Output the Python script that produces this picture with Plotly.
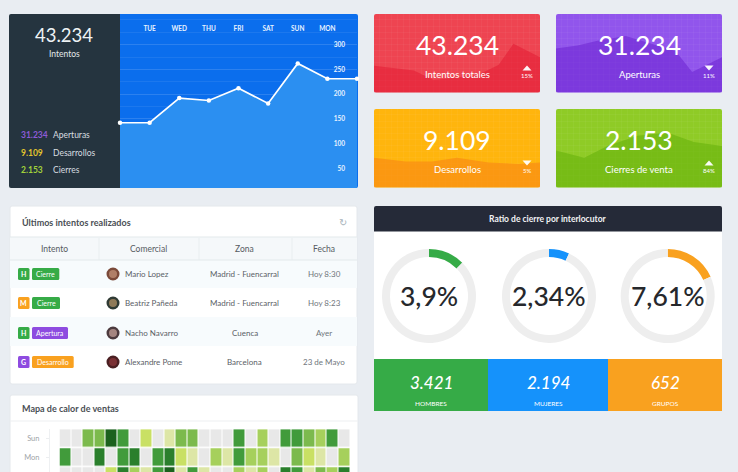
import plotly.graph_objects as go

W, H = 738, 472
FONT = "Lato"

# ---------- data ----------
days = ["", "TUE", "WED", "THU", "FRI", "SAT", "SUN", "MON", ""]
intentos = [142, 142, 192, 187, 212, 181, 262, 231, 231]
y_ticks = [50, 100, 150, 200, 250, 300]
summary_vals = ["31.234", "9.109", "2.153"]
summary_lbls = ["Aperturas", "Desarrollos", "Cierres"]

card_titles = ["Intentos totales", "Aperturas", "Desarrollos", "Cierres de venta"]
card_vals = ["43.234", "31.234", "9.109", "2.153"]
card_pcts = ["15%", "11%", "5%", "84%"]
card_up = [True, False, False, True]
red_x = [0, 24, 36, 62, 75, 84, 100]
red_y = [34, 28, 16, 22, 35, 62, 45]
purple_x = [0, 13, 25, 42, 72, 82, 100]
purple_y = [56, 60, 66, 72, 53, 26, 45]
orange_x = [0, 19, 35, 50, 69, 87, 100]
orange_y = [38, 33, 33, 38, 32, 30, 32]
green_x = [0, 17, 31, 49, 67, 83, 100]
green_y = [47, 38, 53, 66, 70, 58, 53]

tbl_headers = ["Intento", "Comercial", "Zona", "Fecha"]
tbl_tag1 = ["H", "M", "H", "G"]
tbl_tag2 = ["Cierre", "Cierre", "Apertura", "Desarrollo"]
tbl_names = ["Mario Lopez", "Beatriz Pañeda", "Nacho Navarro", "Alexandre Pome"]
tbl_zones = ["Madrid - Fuencarral", "Madrid - Fuencarral", "Cuenca", "Barcelona"]
tbl_dates = ["Hoy 8:30", "Hoy 8:23", "Ayer", "23 de Mayo"]

ring_labels = ["3,9%", "2,34%", "7,61%"]
ring_arcs = [12.5, 7, 18.3]
stat_vals = ["3.421", "2.194", "652"]
stat_lbls = ["HOMBRES", "MUJERES", "GRUPOS"]

heat_rows = ["Sun", "Mon", "Tue"]
heat_sun = [0, 0, 4, 4, 7, 5, 0, 2, 0, 1, 4, 4, 0, 0, 0, 5, 0, 3, 0, 5, 5, 4, 3, 5, 0]
heat_mon = [5, 0, 0, 6, 0, 5, 6, 0, 5, 6, 2, 1, 0, 3, 1, 5, 3, 3, 1, 0, 4, 2, 1, 0, 3]
heat_tue = [0, 0, 0, 0, 2, 6, 3, 1, 5, 7, 1, 5, 1, 0, 0, 3, 1, 3, 0, 6, 5, 1, 4, 3, 6]

# ---------- styling ----------
BG = "#e9edf2"
GREEN, BLUE, ORANGE, PURPLE = "#36ab47", "#1592fb", "#f9a11f", "#8e4be0"


def px(x):
    return x / W


def py(y):
    return 1 - y / H


def rr(x0, y0, x1, y1, r=2):
    return (f"M{px(x0+r)},{py(y0)} L{px(x1-r)},{py(y0)} Q{px(x1)},{py(y0)} {px(x1)},{py(y0+r)} "
            f"L{px(x1)},{py(y1-r)} Q{px(x1)},{py(y1)} {px(x1-r)},{py(y1)} "
            f"L{px(x0+r)},{py(y1)} Q{px(x0)},{py(y1)} {px(x0)},{py(y1-r)} "
            f"L{px(x0)},{py(y0+r)} Q{px(x0)},{py(y0)} {px(x0+r)},{py(y0)} Z")


shapes, notes = [], []


def box(x0, y0, x1, y1, color, r=2, line=None, layer="below"):
    shapes.append(dict(type="path", path=rr(x0, y0, x1, y1, r), xref="paper", yref="paper",
                       fillcolor=color, layer=layer,
                       line=dict(width=1 if line else 0, color=line or color)))


def rect(x0, y0, x1, y1, color, layer="below"):
    shapes.append(dict(type="rect", x0=px(x0), x1=px(x1), y0=py(y1), y1=py(y0), xref="paper", yref="paper",
                       fillcolor=color, line=dict(width=0), layer=layer))


def circ(cx, cy, r, color, layer="above"):
    shapes.append(dict(type="circle", x0=px(cx-r), x1=px(cx+r), y0=py(cy+r), y1=py(cy-r),
                       xref="paper", yref="paper", fillcolor=color, line=dict(width=0), layer=layer))


def tri(cx, cy, up, color="rgba(255,255,255,0.95)"):
    a, b = (cy+2.5, cy-2.5) if up else (cy-2.5, cy+2.5)
    shapes.append(dict(type="path", path=f"M{px(cx-4.5)},{py(a)} L{px(cx+4.5)},{py(a)} L{px(cx)},{py(b)} Z",
                       xref="paper", yref="paper", fillcolor=color, line=dict(width=0), layer="above"))


def T(x, y, text, size, color="#ffffff", anchor="center", weight=400, style="normal", family=FONT):
    notes.append(dict(x=px(x), y=py(y), xref="paper", yref="paper", text=text, showarrow=False,
                      xanchor=anchor, yanchor="middle", borderpad=0,
                      font=dict(size=size, color=color, family=family, weight=weight, style=style)))


fig = go.Figure()

# ---------- main panel ----------
box(120, 14, 358, 188, "#0b6eed")
box(9, 14, 123, 188, "#25343f")
rect(120, 14, 124, 188, "#0b6eed")
T(64, 35, "43.234", 18.5, "#eef2f4", weight=400)
T(64, 54, "Intentos", 8.5, "#e4e8ea", weight=400)
for y, v, l, c in zip([135, 153, 170], summary_vals, summary_lbls, ["#8d5bd6", "#e2c42d", "#a2d23a"]):
    T(20, y, v, 8.5, c, "left", weight=700)
    T(52, y, l, 8.5, "#d8dde0", "left")

fig.add_trace(go.Scatter(
    x=list(range(len(intentos))), y=intentos, mode="lines+markers", fill="tozeroy",
    fillcolor="#2b8ff1", line=dict(color="#ffffff", width=1.7),
    marker=dict(color="#ffffff", size=4.5), cliponaxis=False, showlegend=False, hoverinfo="skip",
    xaxis="x", yaxis="y"))

layout_axes = dict(
    xaxis=dict(domain=[px(120), px(357)], range=[0, 8], side="top", anchor="free", position=py(32),
               tickvals=list(range(1, 8)), ticktext=days[1:8], showgrid=False, zeroline=False, ticks="",
               tickfont=dict(size=6.5, color="#e8f2ff", family=FONT, weight=700)),
    yaxis=dict(domain=[py(188), py(14)], range=[10, 362], side="right", anchor="free", position=px(348),
               tickvals=y_ticks, ticklabelposition="inside", zeroline=False, ticks="",
               tickfont=dict(size=6.5, color="#e8f2ff", family=FONT, weight=700),
               gridcolor="rgba(255,255,255,0.07)", gridwidth=1,
               minor=dict(dtick=25, tick0=0, showgrid=True, gridcolor="rgba(255,255,255,0.07)", gridwidth=1)),
)

# ---------- KPI cards ----------
cards = [
    (374, 14, "#ee4451", "rgba(226,22,48,0.5)", red_x, red_y),
    (556, 14, "#9155ec", "rgba(104,30,205,0.5)", purple_x, purple_y),
    (374, 109, "#ffb50d", "rgba(250,140,20,0.7)", orange_x, orange_y),
    (556, 109, "#8fcb26", "rgba(104,178,12,0.6)", green_x, green_y),
]
for i, (x0, y0, bg, fillc, xs, ys) in enumerate(cards):
    n = i + 2
    x1, y1 = x0 + 166, y0 + 78.5
    box(x0, y0, x1, y1, bg)
    fig.add_trace(go.Scatter(x=xs, y=ys, mode="lines", fill="tozeroy", fillcolor=fillc, line=dict(width=0),
                             showlegend=False, hoverinfo="skip", xaxis=f"x{n}", yaxis=f"y{n}"))
    grid = "rgba(255,255,255,0.04)"
    layout_axes[f"xaxis{n}"] = dict(domain=[px(x0), px(x1)], range=[0, 100], dtick=3.6, tick0=0,
                                    showticklabels=False, gridcolor=grid, zeroline=False, ticks="", anchor=f"y{n}")
    layout_axes[f"yaxis{n}"] = dict(domain=[py(y1), py(y0)], range=[0, 100], dtick=7.7, tick0=0,
                                    showticklabels=False, gridcolor=grid, zeroline=False, ticks="", anchor=f"x{n}")
    cx = x0 + 83
    T(cx, y0 + 31, card_vals[i], 26.5, "#ffffff", weight=400)
    T(cx, y0 + 60, card_titles[i], 9.5, "#ffffff", weight=400)
    tri(x0 + 153, y0 + 54, card_up[i])
    T(x0 + 153, y0 + 61.5, card_pcts[i], 6, "#ffffff")

# ---------- table ----------
box(10, 206, 357, 384, "#ffffff", line="#e4e8ec")
T(21, 222, "Últimos intentos realizados", 9, "#4a4f55", "left", 700)
T(342.5, 222, "↻", 10, "#a9b4bb", family="DejaVu Sans")
rect(10, 237, 357, 260, "#f5f8fa")
rect(10, 260, 357, 288, "#f7fbfd")
rect(10, 317, 357, 346, "#f7fbfd")
for yy in (237, 260):
    rect(10, yy - 0.4, 357, yy + 0.4, "#e3e9ec")
for xx in (99, 199, 292):
    rect(xx - 0.4, 238, xx + 0.4, 260, "#e6ebee")
for x, h in zip([54, 148.5, 245, 324], tbl_headers):
    T(x, 248.5, h, 8.5, "#555b62", weight=400)
row_y = [274, 303, 333, 362]
tag1_col = [GREEN, ORANGE, GREEN, PURPLE]
tag2_col = [GREEN, GREEN, PURPLE, ORANGE]
tag2_end = [59.3, 60, 68, 73.7]
ava = [("#7b4a3a", "#b07f68"), ("#2f3a34", "#8f7a58"), ("#4c3a3e", "#a58580"), ("#4a1f22", "#7a3034")]
for y, t1, t2, c1, c2, e, nm, z, d, (a1, a2) in zip(row_y, tbl_tag1, tbl_tag2, tag1_col, tag2_col, tag2_end,
                                                     tbl_names, tbl_zones, tbl_dates, ava):
    box(18, y - 6, 29.5, y + 6, c1, r=1.5)
    T(23.7, y, t1, 7, "#ffffff", weight=700)
    box(32, y - 6, e, y + 6, c2, r=1.5)
    T((32 + e) / 2, y, t2, 7, "#ffffff")
    circ(113, y, 6.5, a1)
    circ(113, y, 4, a2)
    T(124, y - 0.5, nm, 8, "#5a6066", "left")
    T(245, y, z, 8, "#5a6066")
    T(324, y, d, 8, "#70767c")

# ---------- heat map ----------
box(10, 395, 358, 490, "#ffffff", line="#e4e8ec")
T(21, 408, "Mapa de calor de ventas", 9, "#4a4f55", "left", 700)
rect(10, 420.6, 358, 421.4, "#eef0f2")
HEAT = ["#e8e8e8", "#dde6a6", "#c9e064", "#a6d05c", "#7cba4d", "#419b3b", "#2a7f2c", "#1b611d"]
cs = []
for k, c in enumerate(HEAT):
    cs += [[k / len(HEAT), c], [(k + 1) / len(HEAT), c]]
fig.add_trace(go.Heatmap(z=[heat_sun, heat_mon, heat_tue], y=heat_rows, colorscale=cs, zmin=0, zmax=8 - 1e-9,
                         xgap=1, ygap=1.5, showscale=False, hoverinfo="skip", xaxis="x6", yaxis="y6"))
layout_axes["xaxis6"] = dict(domain=[px(59.5), px(350)], range=[-0.5, 24.5], visible=False, anchor="y6")
layout_axes["yaxis6"] = dict(domain=[0, py(429.2)], range=[1.75, -0.5], anchor="free", position=px(49),
                             tickvals=heat_rows[:2], ticks="outside", ticklen=3, tickcolor="#eceef0",
                             ticklabelstandoff=5,
                             showline=True, linecolor="#eef0f2", showgrid=False, zeroline=False,
                             tickfont=dict(size=7.5, color="#a0a4a8", family=FONT), type="category")

# ---------- ratio panel ----------
box(374, 206, 722, 411, "#ffffff")
box(374, 206, 722, 234, "#252a38")
rect(374, 231.5, 722, 236, "#ffffff")
T(548, 219, "Ratio de cierre por interlocutor", 8.5, "#f2f3f5", weight=700)
ring_cx = [429, 549, 667.7]
for cx, arc, lbl, col in zip(ring_cx, ring_arcs, ring_labels, [GREEN, BLUE, ORANGE]):
    fig.add_trace(go.Pie(values=[arc, 100 - arc], marker=dict(colors=[col, "#eeeeee"], line=dict(width=0)),
                         hole=0.83, sort=False, direction="clockwise", rotation=0, textinfo="none",
                         showlegend=False, hoverinfo="skip",
                         domain=dict(x=[px(cx - 47), px(cx + 47)], y=[py(296 + 47), py(296 - 47)])))
    T(cx, 296, lbl, 26.5, "#26282c", weight=500)
stat_x = [(374, 488, GREEN), (488, 608, BLUE), (608, 722, ORANGE)]
for (x0, x1, c), v, l in zip(stat_x, stat_vals, stat_lbls):
    rect(x0, 359, x1, 411, c)
    T((x0 + x1) / 2, 382, v, 17, "#ffffff", weight=500, style="italic")
    T((x0 + x1) / 2, 403, l, 6.5, "#ffffff", weight=400)

fig.update_layout(width=W, height=H, margin=dict(l=0, r=0, t=0, b=0), paper_bgcolor=BG,
                  plot_bgcolor="rgba(0,0,0,0)", shapes=shapes, annotations=notes,
                  showlegend=False, hovermode=False, font=dict(family=FONT), **layout_axes)

fig.write_html("out.html", config={"displayModeBar": False},
               post_script="document.body.style.margin='0';document.documentElement.style.overflow='hidden';")
